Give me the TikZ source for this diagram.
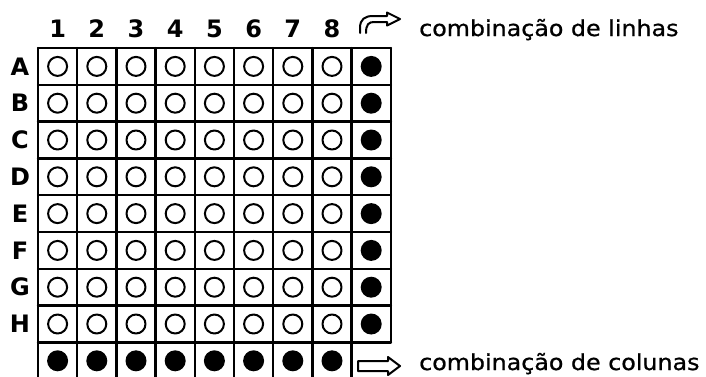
\documentclass[tikz,border=0pt]{standalone}
\usepackage{fontspec}
\setmainfont{DejaVu Sans}
\newfontfamily\widefont[FakeStretch=1.08, FakeBold=0.8]{DejaVu Sans}

\begin{document}
\begin{tikzpicture}[x=1pt, y=-1pt, line cap=round, line join=round,
    gridline/.style={line width=2.4pt},
    opendot/.style={line width=2pt},
    fulldot/.style={fill=black},
    headlabel/.style={font=\fontsize{24}{28}\selectfont\bfseries, anchor=base, inner sep=0pt},
    sidetext/.style={font=\fontsize{22}{26}\widefont, anchor=base west, inner sep=0pt}]

    % geometry (pixel units)
    \def\xL{38}     % left edge of grid
    \def\yT{48}     % top edge of grid
    \def\cw{39.2}   % cell width
    \def\ch{36.8}   % cell height

    \useasboundingbox (0,0) rectangle (706,376);

    % horizontal lines
    \foreach \k in {0,...,8}
        \draw[gridline] (\xL,\yT+\k*\ch) -- (\xL+9*\cw,\yT+\k*\ch);
    \draw[gridline] (\xL,\yT+9*\ch) -- (\xL+8*\cw,\yT+9*\ch);

    % vertical lines (last column stops above the bottom row)
    \foreach \j in {0,...,8}
        \draw[gridline] (\xL+\j*\cw,\yT) -- (\xL+\j*\cw,\yT+9*\ch);
    \draw[gridline] (\xL+9*\cw,\yT) -- (\xL+9*\cw,\yT+8*\ch);

    % column numbers and row letters
    \foreach \j in {1,...,8}
        \node[headlabel] (col\j) at (\xL+\j*\cw-\cw/2,37) {\j};
    \foreach \r [count=\i] in {A,...,H}
        \node[headlabel] (row\r) at (20,\yT+\i*\ch-\ch+27) {\r};

    % open dots, full dots on the right
    \foreach \i in {1,...,8} {
        \foreach \j in {1,...,8}
            \draw[opendot] (\xL+\j*\cw-\cw/2,\yT+\i*\ch-\ch/2) circle[radius=9.5];
        \fill[fulldot] (\xL+9*\cw-\cw/2,\yT+\i*\ch-\ch/2) circle[radius=10.5];
    }

    % full dots in the bottom row
    \foreach \j in {1,...,8}
        \fill[fulldot] (\xL+\j*\cw-\cw/2,\yT+9*\ch-\ch/2) circle[radius=10.5];

    % bent hollow arrow (rows)
    \coordinate (rowarrow) at (360,33);
    \draw[line width=2pt] (rowarrow) -- ++(0,-5)
        .. controls (360,19) and (365,16) .. (373,16) -- (387,16) -- (387,12.5)
        -- (400,19) -- (387,25.5) -- (387,22) -- (374,22)
        .. controls (369,22) and (366,24) .. (366,33);
    \node[sidetext] (rowtext) at (419,36) {combinação de linhas};

    % straight hollow arrow (columns)
    \coordinate (colarrow) at (358,361);
    \draw[line width=2pt] (colarrow) -- (388,361) -- (388,357) -- (400,366)
        -- (388,375) -- (388,371) -- (358,371) -- cycle;
    \node[sidetext] (coltext) at (419,370) {combinação de colunas};

\end{tikzpicture}
\end{document}
